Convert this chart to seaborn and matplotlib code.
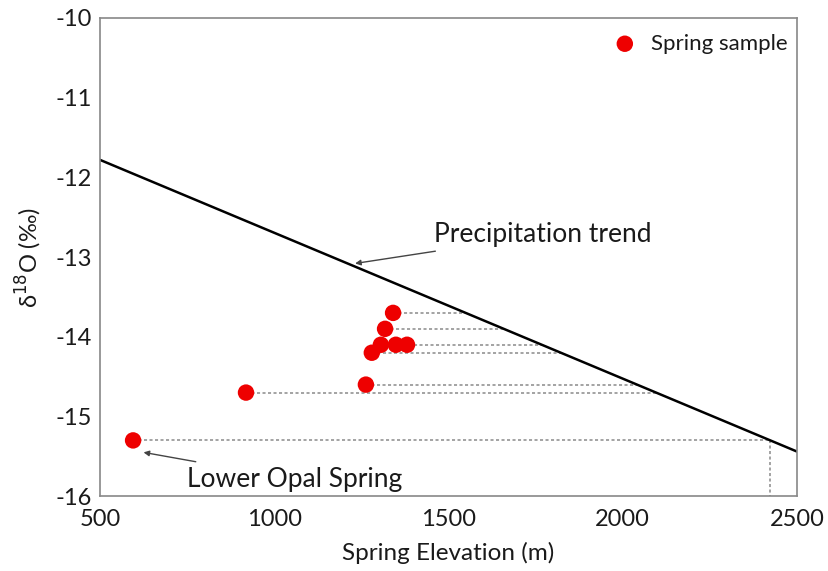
import matplotlib
matplotlib.use("Agg")
import matplotlib.pyplot as plt
import seaborn as sns
import numpy as np
import pandas as pd

# Data
elev = [1341, 1318, 1306, 1349, 1381, 1280, 1263, 919, 595]
d18o = [-13.7, -13.9, -14.1, -14.1, -14.1, -14.2, -14.6, -14.7, -15.3]
trend_x = [500, 2500]
trend_y = [-11.78, -15.44]

sns.set_theme(style="white")
plt.rcParams['font.family'] = ['Lato', 'DejaVu Sans']
plt.rcParams['axes.unicode_minus'] = False

fig = plt.figure(figsize=(8.29, 5.71), dpi=100)
ax = fig.add_axes([0.1206, 0.131, 0.8408, 0.8375])

df = pd.DataFrame({"Elevation": elev, "d18O": d18o})
tdf = pd.DataFrame({"x": trend_x, "y": trend_y})

slope = (trend_y[1] - trend_y[0]) / (trend_x[1] - trend_x[0])
# one dotted guide per distinct value, from the leftmost sample to the trend line
start = df.groupby("d18O")["Elevation"].min()
for y, x in start.items():
    xi = trend_x[0] + (y - trend_y[0]) / slope
    ax.plot([x, xi], [y, y], ls=(0, (2, 1.6)), color="#8a8a8a", lw=1.1, zorder=1)
# vertical drop for Lower Opal Spring
xi_low = trend_x[0] + (d18o[-1] - trend_y[0]) / slope
ax.plot([xi_low, xi_low], [d18o[-1], -16], ls=(0, (2, 1.6)), color="#8a8a8a", lw=1.1, zorder=1)

sns.lineplot(data=tdf, x="x", y="y", ax=ax, color="black", lw=1.8, zorder=2)
sns.scatterplot(data=df, x="Elevation", y="d18O", ax=ax, color="#ee0000", s=140,
                edgecolor="none", label="Spring sample", zorder=3)

ax.set_xlim(500, 2500)
ax.set_ylim(-16, -10)
ax.set_xticks([500, 1000, 1500, 2000, 2500])
ax.set_yticks([-16, -15, -14, -13, -12, -11, -10])
ax.tick_params(direction="in", length=6, width=1, colors="#888888",
               labelcolor="#1a1a1a", labelsize=17)
ax.tick_params(axis="x", pad=9)
ax.tick_params(axis="y", pad=6)
for sp in ax.spines.values():
    sp.set_color("#888888")
    sp.set_linewidth(1.2)

ax.set_xlabel("Spring Elevation (m)", fontsize=17.5, labelpad=9, color="#1a1a1a")
ax.set_ylabel("δ$^{18}$O (‰)", fontsize=17, labelpad=8, color="#1a1a1a")

ax.annotate("Precipitation trend", xy=(1232, -13.08), xytext=(1458, -12.72),
            fontsize=19, va="center", ha="left", color="#1a1a1a",
            arrowprops=dict(arrowstyle="-|>", color="#444444", lw=1.0,
                            mutation_scale=8, shrinkA=3, shrinkB=0))
ax.annotate("Lower Opal Spring", xy=(625, -15.45), xytext=(750, -15.79),
            fontsize=19, va="center", ha="left", color="#1a1a1a",
            arrowprops=dict(arrowstyle="-|>", color="#444444", lw=1.0,
                            mutation_scale=8, shrinkA=8, shrinkB=0))

leg = ax.legend(loc="upper right", bbox_to_anchor=(1.0, 0.986), frameon=False,
                fontsize=16, handletextpad=0.2, borderaxespad=0.0, borderpad=0.4)
for t in leg.get_texts():
    t.set_color("#1a1a1a")

fig.savefig("out.png", dpi=100)
